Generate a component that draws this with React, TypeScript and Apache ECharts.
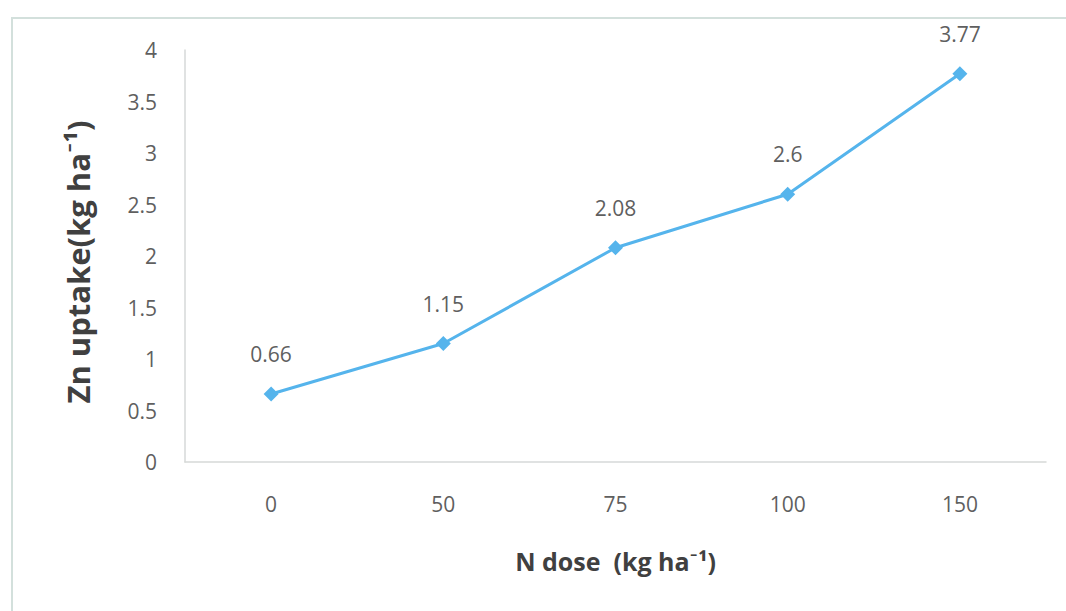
import React, { useEffect, useRef } from "react";
import * as echarts from "echarts";

const doses = ["0", "50", "75", "100", "150"];
const znUptake = [0.66, 1.15, 2.08, 2.6, 3.77];
const yTicks = { min: 0, max: 4, interval: 0.5 };

const FONT = "'Open Sans', Lato, sans-serif";
const LINE_BLUE = "#55b4ec";
const TICK_GREY = "#5f5f5f";

export default function App() {
  const ref = useRef<HTMLDivElement>(null);

  useEffect(() => {
    if (!ref.current) return;
    const chart = echarts.init(ref.current, undefined, { renderer: "svg" });
    chart.setOption({
      animation: false,
      backgroundColor: "#ffffff",
      graphic: [
        {
          type: "rect",
          shape: { x: 12, y: 18, width: 1070, height: 600 },
          style: { fill: "none", stroke: "#d3e0dc", lineWidth: 2 },
          silent: true,
        },
      ],
      grid: { left: 185, right: 20, top: 50, bottom: 149 },
      xAxis: {
        type: "category",
        data: doses,
        boundaryGap: true,
        axisLine: { lineStyle: { color: "#d6d9d8", width: 1.5 } },
        axisTick: { show: false },
        axisLabel: { color: TICK_GREY, fontSize: 21, fontFamily: FONT, margin: 31 },
        name: "N dose  (kg ha⁻¹)",
        nameLocation: "middle",
        nameGap: 86,
        nameTextStyle: {
          color: "#404040",
          fontSize: 25,
          fontWeight: "bold",
          fontFamily: FONT,
        },
      },
      yAxis: {
        type: "value",
        min: yTicks.min,
        max: yTicks.max,
        interval: yTicks.interval,
        axisLine: { show: true, lineStyle: { color: "#d6d9d8", width: 1.5 } },
        axisTick: { show: false },
        splitLine: { show: false },
        axisLabel: { color: TICK_GREY, fontSize: 21, fontFamily: FONT, margin: 28 },
        name: "Zn uptake(kg ha⁻¹)",
        nameLocation: "middle",
        nameGap: 92,
        nameRotate: 90,
        nameTextStyle: {
          color: "#404040",
          fontSize: 31,
          fontWeight: "bold",
          fontFamily: FONT,
          padding: [0, 12, 0, 0],
        },
      },
      series: [
        {
          type: "line",
          data: znUptake,
          symbol: "diamond",
          symbolSize: 15,
          lineStyle: { color: LINE_BLUE, width: 3 },
          itemStyle: { color: LINE_BLUE },
          label: {
            show: true,
            position: "top",
            distance: 22,
            color: TICK_GREY,
            fontSize: 21,
            fontFamily: FONT,
          },
        },
      ],
    });
    return () => chart.dispose();
  }, []);

  return (
    <div
      ref={ref}
      style={{ position: "absolute", left: 0, top: 0, width: 1066, height: 611 }}
    />
  );
}
